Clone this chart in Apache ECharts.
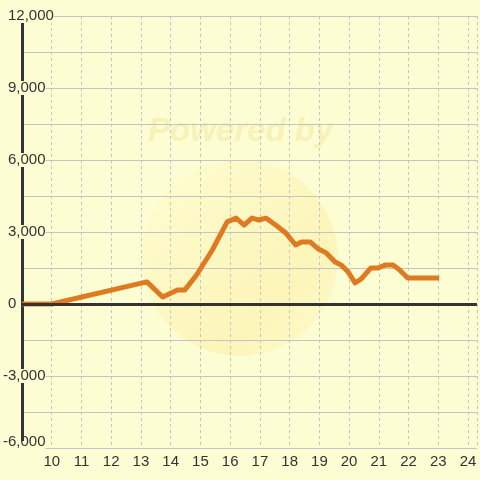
<!DOCTYPE html>
<html>
<head>
<meta charset="utf-8">
<script src="https://cdn.jsdelivr.net/npm/echarts@6/dist/echarts.min.js"></script>
<style>
html,body{margin:0;padding:0;background:#fdfdd3;}
#c{width:480px;height:480px;}
</style>
</head>
<body>
<div id="c"></div>
<script>
// Data (hours of day vs value)
var hours = [9, 10, 13.2, 13.73, 14.23, 14.47, 14.87, 15.4, 15.9, 16.2, 16.47, 16.73, 16.97, 17.2, 17.53, 17.87, 18.2, 18.4, 18.7, 18.97, 19.23, 19.53, 19.73, 19.97, 20.2, 20.4, 20.73, 20.97, 21.23, 21.47, 21.7, 21.97, 23.03];
var values = [0, 0, 920, 290, 580, 580, 1210, 2250, 3420, 3580, 3290, 3580, 3500, 3580, 3290, 2960, 2460, 2580, 2580, 2290, 2130, 1750, 1630, 1330, 880, 1040, 1500, 1500, 1630, 1630, 1420, 1080, 1080];
var yTickLabels = [-6000, -3000, 0, 3000, 6000, 9000, 12000];
var xTickLabels = [10, 11, 12, 13, 14, 15, 16, 17, 18, 19, 20, 21, 22, 23, 24];
var watermarkText = 'Powered by';

var BG = '#fdfdd3';
var chart = echarts.init(document.getElementById('c'), null, {renderer: 'canvas'});
var seriesData = hours.map(function (h, i) { return [h, values[i]]; });
var yMin = yTickLabels[0];

function fmtY(v) {
  if (yTickLabels.indexOf(v) < 0) return '';
  var s = v.toLocaleString('en-US');
  if (v === yMin) return '{b|' + s + '}';
  return v < 0 ? '{n|' + s + '}' : '{p|' + s + '}';
}

chart.setOption({
  backgroundColor: BG,
  animation: false,
  textStyle: {fontFamily: 'Liberation Sans'},
  grid: {left: 21, right: 0, top: 16, bottom: 32, containLabel: false},
  graphic: [
    {
      type: 'circle', z: -10, silent: true,
      shape: {cx: 240, cy: 258, r: 98},
      style: {
        fill: new echarts.graphic.LinearGradient(0, 0, 1, 1, [
          {offset: 0, color: 'rgba(255,245,170,0.12)'},
          {offset: 0.45, color: 'rgba(250,228,130,0.22)'},
          {offset: 0.7, color: 'rgba(250,225,120,0.28)'},
          {offset: 1, color: 'rgba(255,240,160,0.15)'}
        ])
      }
    },
    {
      type: 'text', z: -10, silent: true,
      left: 148, top: 115,
      style: {text: watermarkText, fill: 'rgba(240,226,150,0.42)', font: 'italic bold 33px "Liberation Sans"'}
    }
  ],
  xAxis: {
    type: 'value', min: 9, max: 24.3, interval: 1,
    axisLine: {show: false}, axisTick: {show: false},
    axisLabel: {
      color: '#333', fontSize: 15, margin: 6,
      formatter: function (v) { return xTickLabels.indexOf(v) >= 0 ? String(v) : ''; }
    },
    splitLine: {show: true, lineStyle: {color: '#c4c4c4', type: [3, 3], width: 1}}
  },
  yAxis: {
    type: 'value', min: -6000, max: 12000, interval: 1500, z: 3,
    axisLine: {show: true, lineStyle: {color: '#333', width: 3}},
    axisTick: {show: false},
    axisLabel: {
      align: 'left', margin: 19, color: '#333', fontSize: 15,
      backgroundColor: BG, lineHeight: 14,
      formatter: fmtY,
      rich: {
        n: {fontSize: 15, color: '#333', lineHeight: 14},
        b: {fontSize: 15, color: '#333', lineHeight: 14, padding: [0, 0, 12, 0]},
        p: {fontSize: 15, color: '#333', lineHeight: 14, padding: [0, 0, 0, 5]}
      }
    },
    splitLine: {show: true, lineStyle: {color: '#c4c4c4', width: 1}}
  },
  series: [
    {
      type: 'line', data: [], z: 1, silent: true,
      markLine: {
        silent: true, symbol: 'none', label: {show: false},
        lineStyle: {color: '#333', width: 3, type: 'solid'},
        data: [{yAxis: 0}]
      }
    },
    {
      type: 'line', data: seriesData, z: 3, showSymbol: false,
      lineStyle: {color: '#e07a22', width: 5, join: 'round'},
      itemStyle: {color: '#e07a22'}
    }
  ]
});
</script>
</body>
</html>
